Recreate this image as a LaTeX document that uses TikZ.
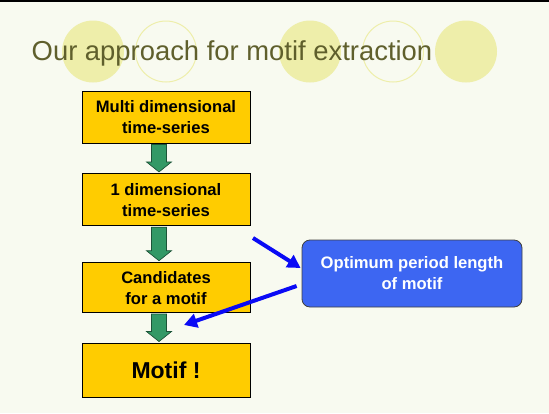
\documentclass[tikz,border=0pt]{standalone}
\usepackage{fontspec}
\setmainfont{Liberation Sans}
\usetikzlibrary{arrows.meta,calc,positioning}
\definecolor{SlideBack}{HTML}{F8FAF0}
\definecolor{TitleOlive}{HTML}{5F5F2C}
\definecolor{DotYellow}{HTML}{EEEEAA}
\definecolor{StepYellow}{HTML}{FFCC00}
\definecolor{FlowGreen}{HTML}{339966}
\definecolor{OptBlue}{HTML}{3D66F2}
\definecolor{LinkBlue}{HTML}{0A0AF5}

\tikzset{
  stepbox/.style={draw=black,fill=StepYellow,line width=0.8pt,
    minimum width=168pt,minimum height=52pt,inner sep=0pt,align=center,
    font=\fontsize{16.6}{21}\selectfont\bfseries},
  optbox/.style={draw=black!75,fill=OptBlue,text=white,line width=0.8pt,
    rounded corners=8pt,minimum width=220pt,minimum height=67pt,
    inner sep=0pt,align=center,font=\fontsize{16.6}{21}\selectfont\bfseries},
  flowarrow/.style={fill=FlowGreen,draw=FlowGreen!55!black,line width=0.7pt},
  link/.style={draw=LinkBlue,line width=4pt,
    -{Triangle[length=13pt,width=14pt]}}
}

% Block arrow from the bottom of one box to the top of the next.
\newcommand\greenstep[2]{%
  \draw[flowarrow] let \p1=(#1.south), \p2=(#2.north) in
    (\x1-14.5pt,\y1-1pt) -- (\x1+0.5pt,\y1-1pt) -- (\x1+0.5pt,\y2+11.5pt) --
    (\x1+5.5pt,\y2+11.5pt) -- (\x1-7pt,\y2+1.5pt) --
    (\x1-19.5pt,\y2+11.5pt) -- (\x1-14.5pt,\y2+11.5pt) -- cycle;}

\begin{document}
\begin{tikzpicture}[x=1pt,y=-1pt,>=Latex]
    \useasboundingbox (0,0) rectangle (549,413);
    \fill[SlideBack] (0,0) rectangle (549,413);
    \fill[black] (0,0) rectangle (549,2);

    % Decorative dots behind the title.
    \fill[DotYellow] (93,51.5) circle (31pt);
    \draw[DotYellow,line width=1pt] (166,51.5) circle (30.5pt);
    \fill[DotYellow] (310,51.5) circle (31pt);
    \draw[DotYellow,line width=1pt] (393,51.5) circle (30.5pt);
    \fill[DotYellow] (466,51.5) circle (31pt);

    \node[anchor=base west,inner sep=0pt,text=TitleOlive,
      font=\fontsize{27.4}{33}\selectfont] (title) at (31.5,60)
      {Our approach for motif extraction};

    % Processing chain.
    \node[stepbox] (multi) at (166,117) {Multi dimensional\\time-series};
    \node[stepbox,below=30pt of multi] (single) {1 dimensional\\time-series};
    \node[stepbox,below=36pt of single,minimum height=50pt] (cand)
      {Candidates\\for a motif};
    \node[stepbox,below=30pt of cand,minimum height=54pt,
      font=\fontsize{23}{28}\selectfont\bfseries] (motif) {Motif !};

    \greenstep{multi}{single}
    \greenstep{single}{cand}
    \greenstep{cand}{motif}

    % Period length estimate feeding the candidate step.
    \node[optbox] (opt) at (412,273.5) {Optimum period length\\of motif};
    \coordinate (linkin) at (253,238);
    \coordinate (linkout) at (184,325);
    \draw[link] (linkin) -- ([xshift=-1pt,yshift=5.5pt]opt.west);
    \draw[link] ([xshift=-5pt,yshift=-12.5pt]opt.west) -- (linkout);
  \end{tikzpicture}
\end{document}
